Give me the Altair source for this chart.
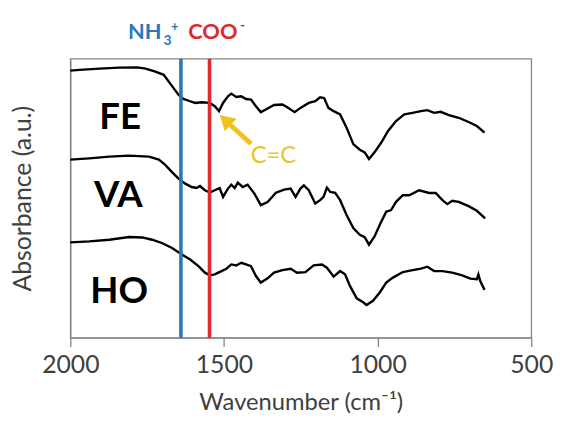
import altair as alt
import pandas as pd

# ---- spectra (wavenumber in cm-1, absorbance in arbitrary units, stacked) ----
FE_WN = [2000, 1970, 1905, 1841, 1782, 1755, 1723, 1696, 1680, 1664, 1648, 1632, 1610, 1594, 1573,
         1546, 1530, 1516, 1503, 1487, 1476, 1460, 1444, 1428, 1412, 1396, 1380, 1364, 1337, 1310,
         1294, 1270, 1251, 1224, 1203, 1187, 1174, 1160, 1143, 1122, 1101, 1079, 1058, 1042, 1028,
         1010, 988, 966, 940, 913, 886, 859, 838, 816, 795, 768, 736, 704, 677, 652]
FE_ABS = [270, 270.7, 272, 273, 273.3, 272, 269, 265.7, 259, 252.3, 245.7, 241.3, 239, 237.3, 238,
          237.3, 234, 229, 237.3, 244, 246.7, 243.3, 244, 241.3, 240.7, 234, 228, 230.7, 235.2, 235.7,
          233, 228, 232.3, 237.3, 239, 243, 242.3, 232.3, 229, 225.7, 212.3, 195.7, 190, 187.3, 180.7,
          187.3, 197.3, 209, 219, 225.7, 227.3, 229, 230, 227.3, 228.3, 225, 222.3, 218, 214, 207.3]

VA_WN = [2000, 1938, 1873, 1809, 1744, 1712, 1691, 1669, 1648, 1626, 1605, 1589, 1578, 1562, 1546,
         1530, 1514, 1503, 1487, 1476, 1465, 1455, 1439, 1423, 1401, 1380, 1358, 1331, 1304, 1283,
         1267, 1251, 1240, 1224, 1203, 1187, 1176, 1165, 1154, 1138, 1122, 1101, 1079, 1058, 1042,
         1028, 1010, 988, 972, 956, 940, 918, 897, 865, 832, 811, 789, 773, 757, 736, 704, 677, 650]
VA_ABS = [180, 181.3, 183, 184, 183, 180, 174.7, 167.3, 160.7, 155.7, 152.3, 151.3, 153.3, 149, 146.7,
          149, 151.3, 142.3, 150.7, 154.7, 151.3, 156.7, 152.3, 154.7, 145.7, 134, 137, 146.5, 149.7, 150.7,
          142.3, 150.7, 154, 149, 135.7, 139, 142.3, 151.7, 147.3, 146.3, 139, 124, 110.7, 104, 101.7,
          94, 102.3, 117.3, 127.3, 129, 137.3, 144, 144, 149, 146.3, 146.3, 139, 135, 138.3, 137.3,
          133, 128.3, 120.7]

HO_WN = [2000, 1938, 1873, 1809, 1766, 1734, 1702, 1669, 1637, 1610, 1583, 1562, 1546, 1530, 1508,
         1492, 1476, 1460, 1444, 1428, 1412, 1396, 1380, 1358, 1337, 1310, 1283, 1262, 1235, 1208,
         1181, 1165, 1143, 1122, 1106, 1090, 1068, 1047, 1036, 1015, 993, 972, 950, 918, 886,
         859, 838, 816, 789, 757, 725, 698, 677, 672, 666, 652]
HO_ABS = [96.3, 97.3, 99, 101.7, 101.3, 99, 95.7, 90.7, 84, 79, 72.3, 65.7, 63, 64, 67.3,
          69.7, 74, 73, 75.7, 74, 72.3, 62.3, 55.7, 60, 65.7, 68.3, 69.7, 65.7, 66.3, 73,
          74, 70.7, 61.7, 67.3, 64, 52.3, 39.7, 35.7, 33, 37.3, 45.7, 55.7, 60.7, 66.3, 68.3,
          69.7, 71.7, 67.3, 67.3, 65.7, 63, 59.7, 59, 64, 57.3, 48.3]

SAMPLES = ["FE", "VA", "HO"]
SAMPLE_LABEL_WN = [1838, 1844, 1841]
SAMPLE_LABEL_ABS = [222, 143, 46]

BANDS = ["NH3+", "COO-"]
BAND_WN = [1640, 1547]
BAND_COLORS = ["#2a78b9", "#dc2a2e"]

X_TICKS = [2000, 1500, 1000, 500]

# C=C arrow annotation (tail -> head), wavenumber / absorbance
ARROW_TAIL = (1412, 196)
ARROW_SHAFT_END = (1490, 218)
ARROW_HEAD = (1496, 220)
CC_LABEL = (1339, 184)

rows = []
for name, wn, ab in [("FE", FE_WN, FE_ABS), ("VA", VA_WN, VA_ABS), ("HO", HO_WN, HO_ABS)]:
    for w, a in zip(wn, ab):
        rows.append({"sample": name, "wavenumber": w, "absorbance": a})
df = pd.DataFrame(rows)

x_scale = alt.Scale(domain=[2000, 500], nice=False, zero=False)
y_scale = alt.Scale(domain=[0, 282], nice=False, zero=False)

GRAY = "#404040"
FRAME = "#858585"
GOLD = "#efc220"

lines = alt.Chart(df).mark_line(color="black", strokeWidth=2.4).encode(
    x=alt.X("wavenumber:Q", scale=x_scale,
            axis=alt.Axis(values=X_TICKS, format="d", labelFlush=False,
                          title="Wavenumber (cm⁻¹)", grid=False,
                          tickSize=9, tickColor=FRAME, tickWidth=1.3,
                          domainColor=FRAME, domainWidth=1.3,
                          labelFontSize=25, labelColor=GRAY, labelPadding=6,
                          titleFontSize=24, titleColor=GRAY, titleFontWeight="normal",
                          titlePadding=14)),
    y=alt.Y("absorbance:Q", scale=y_scale,
            axis=alt.Axis(labels=False, ticks=False, grid=False, title="Absorbance (a.u.)",
                          domainColor=FRAME, domainWidth=1.3,
                          titleFontSize=25, titleColor=GRAY, titleFontWeight="normal",
                          titlePadding=35)),
    detail="sample:N",
)

rules_df = pd.DataFrame({"band": BANDS, "wn": BAND_WN})
rules = alt.Chart(rules_df).mark_rule(strokeWidth=3.6).encode(
    x=alt.X("wn:Q", scale=x_scale),
    color=alt.Color("band:N", scale=alt.Scale(domain=BANDS, range=BAND_COLORS), legend=None),
)

lab_df = pd.DataFrame({"text": SAMPLES, "wn": SAMPLE_LABEL_WN, "ab": SAMPLE_LABEL_ABS})
sample_labels = alt.Chart(lab_df).mark_text(
    fontSize=37, fontWeight="bold", color="black", align="center", baseline="middle"
).encode(x=alt.X("wn:Q", scale=x_scale), y=alt.Y("ab:Q", scale=y_scale), text="text:N")

# arrow
shaft_df = pd.DataFrame({"x": [ARROW_TAIL[0]], "y": [ARROW_TAIL[1]],
                         "x2": [ARROW_SHAFT_END[0]], "y2": [ARROW_SHAFT_END[1]]})
shaft = alt.Chart(shaft_df).mark_rule(color=GOLD, strokeWidth=5).encode(
    x=alt.X("x:Q", scale=x_scale), y=alt.Y("y:Q", scale=y_scale), x2="x2:Q", y2="y2:Q")
head_df = pd.DataFrame({"x": [ARROW_HEAD[0]], "y": [ARROW_HEAD[1]]})
head = alt.Chart(head_df).mark_point(shape="triangle-up", filled=True, color=GOLD, opacity=1,
                                     size=300, angle=313).encode(
    x=alt.X("x:Q", scale=x_scale), y=alt.Y("y:Q", scale=y_scale))
cc_df = pd.DataFrame({"x": [CC_LABEL[0]], "y": [CC_LABEL[1]], "t": ["C=C"]})
cc = alt.Chart(cc_df).mark_text(fontSize=24, color="#e6c629", align="center", baseline="middle").encode(
    x=alt.X("x:Q", scale=x_scale), y=alt.Y("y:Q", scale=y_scale), text="t:N")

# top labels NH3+ and COO-
def top_text(txt, wn, ypix, size, color, bold=True):
    d = pd.DataFrame({"x": [wn], "t": [txt]})
    return alt.Chart(d).mark_text(fontSize=size, fontWeight="bold" if bold else "normal",
                                  color=color, align="left", baseline="alphabetic").encode(
        x=alt.X("x:Q", scale=x_scale), y=alt.value(ypix), text="t:N")

top = (top_text("NH", 1812, -20, 22, BAND_COLORS[0])
       + top_text("3", 1697, -14, 14, BAND_COLORS[0])
       + top_text("+", 1672, -28, 13, BAND_COLORS[0])
       + top_text("COO", 1616, -20, 22, BAND_COLORS[1])
       + top_text("-", 1448, -29, 14, BAND_COLORS[1]))

chart = alt.layer(lines, rules, sample_labels, shaft, head, cc, top).properties(
    width=466, height=282,
    autosize=alt.AutoSizeParams(type="none"),
    padding={"left": 63, "top": 49, "right": 23, "bottom": 83},
).configure(font="Lato").configure_view(stroke=FRAME, strokeWidth=1.3)

chart.save("out.html", embed_options={"renderer": "svg", "actions": False})
